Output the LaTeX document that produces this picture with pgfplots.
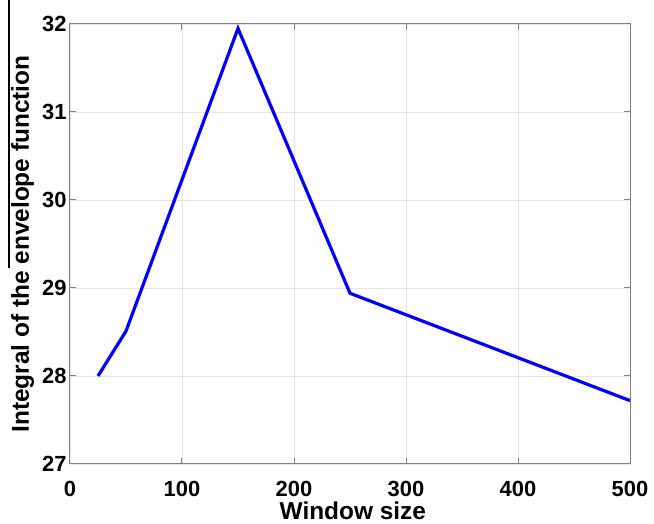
\documentclass[border=0pt]{standalone}
\usepackage{pgfplots}
\pgfplotsset{compat=1.18}
\usepackage{fontspec}
\setmainfont{Liberation Sans}
\begin{document}
\begin{tikzpicture}
\begin{axis}[
  scale only axis,
  width=560bp, height=440bp,
  xmin=0, xmax=500, ymin=27, ymax=32,
  xtick={0,100,200,300,400,500},
  ytick={27,28,29,30,31,32},
  /pgf/number format/assume math mode=true,
  ticklabel style={font=\fontsize{22}{24}\selectfont\bfseries},
  label style={font=\fontsize{24.5}{26}\selectfont\bfseries},
  xlabel={Window size},
  ylabel={Integral of the envelope function},
  xlabel style={at={(axis description cs:0.505,-0.107)}, anchor=center},
  ylabel style={at={(axis description cs:-0.0848,0.5)}, anchor=center},
  grid=major,
  major grid style={draw=black!10, line width=0.8bp},
  axis line style={draw=black!50, line width=1bp},
  tick style={draw=black!50, line width=1bp},
  tick align=inside,
  major tick length=6bp,
  xticklabel style={yshift=-14bp},
]
\addplot[draw={rgb,255:red,0;green,0;blue,255}, line width=3.2bp] coordinates {
  (25,28.0) (50,28.51) (150,31.95) (250,28.94) (500,27.72)
};
\end{axis}
\draw[black, line width=1.3bp] ([shift={(-61bp,196bp)}]current axis.south west) -- ([shift={(-61bp,464bp)}]current axis.south west);
\pgfresetboundingbox
\path ([shift={(-70bp,-60bp)}]current axis.south west) rectangle ([shift={(24bp,24bp)}]current axis.north east);
\end{tikzpicture}
\end{document}
